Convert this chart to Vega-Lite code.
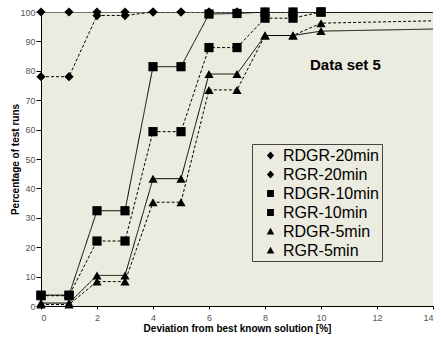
{
  "$schema": "https://vega.github.io/schema/vega-lite/v6.json",
  "width": 392,
  "height": 294,
  "autosize": "none",
  "padding": {"left": 41, "top": 12, "right": 8, "bottom": 31},
  "background": "white",
  "title": {
    "text": "Data set 5", "orient": "top", "anchor": "start", "frame": "group",
    "offset": -78, "dx": 269, "baseline": "alphabetic",
    "fontSize": 15, "fontWeight": "bold", "color": "black", "font": "Liberation Sans"
  },
  "config": {
    "view": {"fill": "#ECEBDF", "stroke": null},
    "font": "Liberation Sans",
    "legend": {"disable": false},
    "axis": {"disable": false},
    "title": {"disable": false}
  },
  "datasets": {
    "runs": [
      {"series": "RDGR-20min", "x": 0, "y": 100}, {"series": "RDGR-20min", "x": 1, "y": 100}, {"series": "RDGR-20min", "x": 2, "y": 100}, {"series": "RDGR-20min", "x": 3, "y": 100}, {"series": "RDGR-20min", "x": 4, "y": 100}, {"series": "RDGR-20min", "x": 5, "y": 100}, {"series": "RDGR-20min", "x": 6, "y": 100}, {"series": "RDGR-20min", "x": 7, "y": 100}, {"series": "RDGR-20min", "x": 8, "y": 100}, {"series": "RDGR-20min", "x": 9, "y": 100}, {"series": "RDGR-20min", "x": 10, "y": 100}, {"series": "RDGR-20min", "x": 14, "y": 100},
      {"series": "RGR-20min", "x": 0, "y": 78}, {"series": "RGR-20min", "x": 1, "y": 78}, {"series": "RGR-20min", "x": 2, "y": 98.8}, {"series": "RGR-20min", "x": 3, "y": 98.8}, {"series": "RGR-20min", "x": 4, "y": 100}, {"series": "RGR-20min", "x": 5, "y": 100}, {"series": "RGR-20min", "x": 6, "y": 100}, {"series": "RGR-20min", "x": 7, "y": 100}, {"series": "RGR-20min", "x": 8, "y": 100}, {"series": "RGR-20min", "x": 9, "y": 100}, {"series": "RGR-20min", "x": 10, "y": 100}, {"series": "RGR-20min", "x": 14, "y": 100},
      {"series": "RDGR-10min", "x": 0, "y": 3.7}, {"series": "RDGR-10min", "x": 1, "y": 3.7}, {"series": "RDGR-10min", "x": 2, "y": 32.4}, {"series": "RDGR-10min", "x": 3, "y": 32.4}, {"series": "RDGR-10min", "x": 4, "y": 81.4}, {"series": "RDGR-10min", "x": 5, "y": 81.4}, {"series": "RDGR-10min", "x": 6, "y": 99.3}, {"series": "RDGR-10min", "x": 7, "y": 99.5}, {"series": "RDGR-10min", "x": 8, "y": 100}, {"series": "RDGR-10min", "x": 9, "y": 100}, {"series": "RDGR-10min", "x": 10, "y": 100}, {"series": "RDGR-10min", "x": 14, "y": 100},
      {"series": "RGR-10min", "x": 0, "y": 3.5}, {"series": "RGR-10min", "x": 1, "y": 3.5}, {"series": "RGR-10min", "x": 2, "y": 22.1}, {"series": "RGR-10min", "x": 3, "y": 22.1}, {"series": "RGR-10min", "x": 4, "y": 59.3}, {"series": "RGR-10min", "x": 5, "y": 59.3}, {"series": "RGR-10min", "x": 6, "y": 87.9}, {"series": "RGR-10min", "x": 7, "y": 87.9}, {"series": "RGR-10min", "x": 8, "y": 97.9}, {"series": "RGR-10min", "x": 9, "y": 97.9}, {"series": "RGR-10min", "x": 10, "y": 100}, {"series": "RGR-10min", "x": 14, "y": 100},
      {"series": "RDGR-5min", "x": 0, "y": 1}, {"series": "RDGR-5min", "x": 1, "y": 1}, {"series": "RDGR-5min", "x": 2, "y": 10.4}, {"series": "RDGR-5min", "x": 3, "y": 10.4}, {"series": "RDGR-5min", "x": 4, "y": 43.3}, {"series": "RDGR-5min", "x": 5, "y": 43.3}, {"series": "RDGR-5min", "x": 6, "y": 78.9}, {"series": "RDGR-5min", "x": 7, "y": 78.9}, {"series": "RDGR-5min", "x": 8, "y": 92}, {"series": "RDGR-5min", "x": 9, "y": 92}, {"series": "RDGR-5min", "x": 10, "y": 93.5}, {"series": "RDGR-5min", "x": 14, "y": 94.2},
      {"series": "RGR-5min", "x": 0, "y": 0.5}, {"series": "RGR-5min", "x": 1, "y": 0.5}, {"series": "RGR-5min", "x": 2, "y": 8.3}, {"series": "RGR-5min", "x": 3, "y": 8.3}, {"series": "RGR-5min", "x": 4, "y": 35.3}, {"series": "RGR-5min", "x": 5, "y": 35.3}, {"series": "RGR-5min", "x": 6, "y": 73.5}, {"series": "RGR-5min", "x": 7, "y": 73.5}, {"series": "RGR-5min", "x": 8, "y": 92}, {"series": "RGR-5min", "x": 9, "y": 92}, {"series": "RGR-5min", "x": 10, "y": 96.2}, {"series": "RGR-5min", "x": 14, "y": 97}
    ]
  },
  "encoding": {
    "x": {
      "field": "x", "type": "quantitative",
      "scale": {"domain": [0, 14], "nice": false, "zero": false},
      "axis": {
        "values": [0, 2, 4, 6, 8, 10, 12, 14], "grid": false,
        "domainColor": "black", "tickColor": "black", "tickSize": 3,
        "labelFontSize": 9, "labelColor": "#555555", "labelPadding": 4,
        "title": "Deviation from best known solution [%]", "titleFontSize": 10,
        "titleFontWeight": "bold", "titleColor": "black", "titlePadding": 1
      }
    },
    "y": {
      "field": "y", "type": "quantitative",
      "scale": {"domain": [0, 100], "nice": false},
      "axis": {
        "values": [0, 10, 20, 30, 40, 50, 60, 70, 80, 90, 100], "grid": false,
        "domainColor": "black", "tickColor": "black", "tickSize": 5,
        "labelFontSize": 9, "labelColor": "#555555", "labelPadding": 1,
        "title": "Percentage of test runs", "titleFontSize": 10,
        "titleFontWeight": "bold", "titleColor": "black", "titlePadding": -1
      }
    }
  },
  "layer": [
    {
      "data": {"name": "runs"},
      "mark": {"type": "line", "clip": true, "strokeWidth": 1, "color": "black"},
      "encoding": {
        "detail": {"field": "series", "type": "nominal"},
        "strokeDash": {
          "field": "series", "type": "nominal",
          "scale": {
            "domain": ["RDGR-20min", "RGR-20min", "RDGR-10min", "RGR-10min", "RDGR-5min", "RGR-5min"],
            "range": [[1, 0], [3, 2], [1, 0], [3, 2], [1, 0], [3, 2]]
          },
          "legend": null
        }
      }
    },
    {
      "data": {"name": "runs"},
      "transform": [{"filter": "datum.x <= 10"}],
      "mark": {"type": "point", "filled": true, "color": "black", "opacity": 1},
      "encoding": {
        "size": {
          "field": "series", "type": "nominal",
          "scale": {
            "domain": ["RDGR-20min", "RGR-20min", "RDGR-10min", "RGR-10min", "RDGR-5min", "RGR-5min"],
            "range": [85, 85, 60, 60, 60, 60]
          },
          "legend": null
        },
        "shape": {
          "field": "series", "type": "nominal",
          "scale": {
            "domain": ["RDGR-20min", "RGR-20min", "RDGR-10min", "RGR-10min", "RDGR-5min", "RGR-5min"],
            "range": ["diamond", "diamond", "square", "square", "triangle-up", "triangle-up"]
          },
          "legend": null
        }
      }
    },
    {
      "data": {"name": "runs"},
      "transform": [{"filter": "datum.x == 0"}],
      "mark": {"type": "point", "filled": false, "fill": "black", "stroke": "black", "opacity": 0, "size": 324, "strokeWidth": 1},
      "encoding": {
        "shape": {
          "field": "series", "type": "nominal",
          "scale": {
            "domain": ["RDGR-20min", "RGR-20min", "RDGR-10min", "RGR-10min", "RDGR-5min", "RGR-5min"],
            "range": [
              "M-1.17,0H1.17M0,-0.45L0.4,0L0,0.45L-0.4,0Z",
              "M-1.17,0H-1M-0.83,0H-0.66M0.66,0H0.83M1,0H1.17M0,-0.45L0.4,0L0,0.45L-0.4,0Z",
              "M-1.17,0H1.17M-0.38,-0.38H0.38V0.38H-0.38Z",
              "M-1.17,0H-1M-0.83,0H-0.66M0.66,0H0.83M1,0H1.17M-0.38,-0.38H0.38V0.38H-0.38Z",
              "M-1.17,0H1.17M0,-0.42L0.42,0.34H-0.42Z",
              "M-1.17,0H-1M-0.83,0H-0.66M0.66,0H0.83M1,0H1.17M0,-0.42L0.42,0.34H-0.42Z"
            ]
          },
          "legend": {
            "orient": "none", "legendX": 211, "legendY": 132, "title": null,
            "strokeColor": "#444444", "fillColor": "#ECEBDF", "padding": 2,
            "labelFontSize": 16, "labelColor": "black",
            "symbolSize": 324, "symbolOffset": 7,
            "symbolFillColor": "black", "symbolStrokeColor": "black", "symbolStrokeWidth": 1,
            "symbolOpacity": 1,
            "rowPadding": 1, "labelOffset": 3
          }
        }
      }
    }
  ],
  "resolve": {"scale": {"shape": "independent"}, "legend": {"shape": "independent"}}
}
